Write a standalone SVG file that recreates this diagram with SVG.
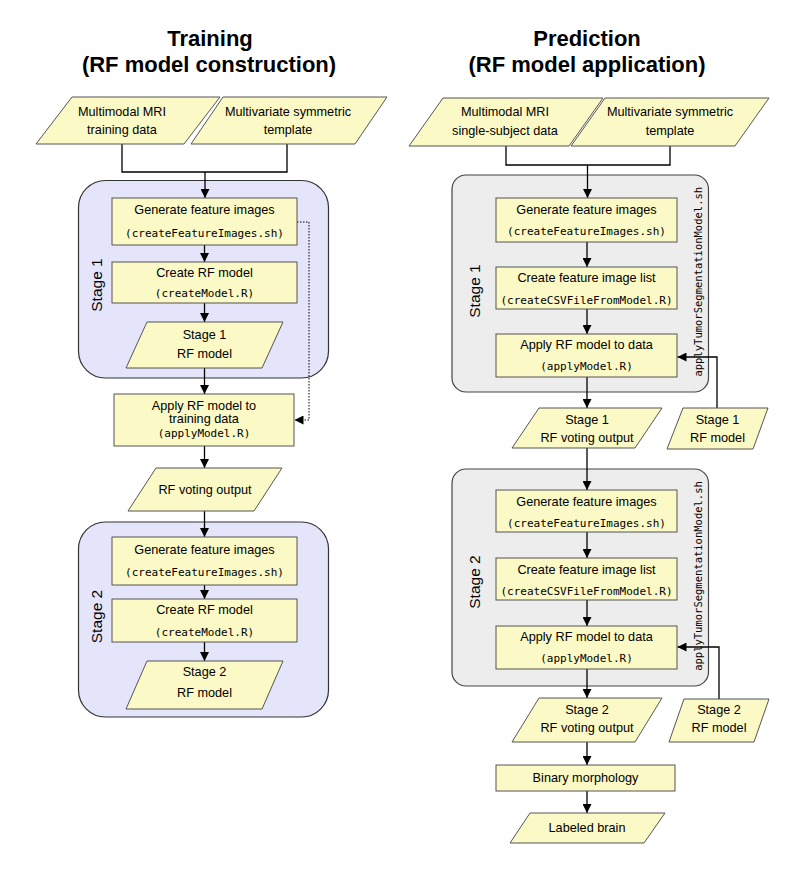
<svg xmlns="http://www.w3.org/2000/svg" width="792" height="870" viewBox="0 0 792 870">
<defs>
<marker id="ah" markerUnits="userSpaceOnUse" markerWidth="9" markerHeight="9" refX="9" refY="4.5" orient="auto">
<path d="M0,0 L9,4.5 L0,9 z" fill="#000"/>
</marker>
<style>
.n{fill:#fbf9c6;stroke:#555;stroke-width:1}
.t{font-family:"Liberation Sans",Arial,sans-serif;font-size:12.7px;text-anchor:middle;fill:#000}
.c{font-family:"DejaVu Sans Mono","Liberation Mono",monospace;font-size:11px;text-anchor:middle;fill:#000}
.ttl{font-family:"Liberation Sans",Arial,sans-serif;font-weight:bold;font-size:22px;text-anchor:middle;fill:#000}
.sl{font-family:"Liberation Sans",Arial,sans-serif;font-size:15.5px;text-anchor:middle;fill:#000}
.vl{font-family:"DejaVu Sans Mono","Liberation Mono",monospace;font-size:10.5px;text-anchor:middle;fill:#000}
.sb{fill:#e4e4fa;stroke:#333;stroke-width:1.2}
.sg{fill:#ededed;stroke:#444;stroke-width:1.2}
.cl{fill:none;stroke:#000;stroke-width:1.3}
.ar{fill:none;stroke:#000;stroke-width:1.3;marker-end:url(#ah)}
.dt{fill:none;stroke:#000;stroke-width:1;stroke-dasharray:1.5,1.5;marker-end:url(#ah)}
</style>
</defs>
<rect width="792" height="870" fill="#fff"/>

<g id="titles">
<text class="ttl" x="210" y="45.5">Training</text>
<text class="ttl" x="209" y="71.5">(RF model construction)</text>
<text class="ttl" x="587" y="45.5">Prediction</text>
<text class="ttl" x="587" y="71.5">(RF model application)</text>
</g>

<!-- Stage containers -->
<g id="stageL1">
<rect class="sb" x="78.5" y="180.5" width="250" height="197.5" rx="27"/>
<text class="sl" transform="translate(101.5,285) rotate(-90)">Stage 1</text>
</g>
<g id="stageL2">
<rect class="sb" x="78.5" y="522" width="250" height="195" rx="27"/>
<text class="sl" transform="translate(101.5,616.5) rotate(-90)">Stage 2</text>
</g>
<g id="stageR1">
<rect class="sg" x="452" y="175" width="256.5" height="217" rx="14"/>
<text class="sl" transform="translate(479.5,291) rotate(-90)">Stage 1</text>
<text class="vl" transform="translate(701.5,281.7) rotate(-90)">applyTumorSegmentationModel.sh</text>
</g>
<g id="stageR2">
<rect class="sg" x="452" y="469" width="256.5" height="217" rx="14"/>
<text class="sl" transform="translate(479.5,582) rotate(-90)">Stage 2</text>
<text class="vl" transform="translate(701.5,576) rotate(-90)">applyTumorSegmentationModel.sh</text>
</g>

<!-- Connectors -->
<g id="connectors">
<path class="cl" d="M122,144 V172 H287 V144"/>
<path class="ar" d="M205,172 V198"/>
<path class="ar" d="M204.5,245 V262"/>
<path class="ar" d="M204.5,303 V322"/>
<path class="ar" d="M204.5,368 V394"/>
<path class="ar" d="M204.5,446 V468"/>
<path class="ar" d="M204.5,511 V537"/>
<path class="ar" d="M204.5,585 V599"/>
<path class="ar" d="M204.5,642 V661"/>
<path class="dt" d="M297,222 H309 V420 H294.5"/>

<path class="cl" d="M506,146 V165 H670 V146"/>
<path class="ar" d="M587.5,165 V198"/>
<path class="ar" d="M587,242 V267"/>
<path class="ar" d="M587,309 V334"/>
<path class="ar" d="M587,377 V408"/>
<path class="ar" d="M587,448 V490"/>
<path class="ar" d="M587,532 V558"/>
<path class="ar" d="M587,600 V626"/>
<path class="ar" d="M587,669 V698"/>
<path class="ar" d="M587,742 V765"/>
<path class="ar" d="M587,791 V813"/>
<path class="ar" d="M717,408 V357 H677.5"/>
<path class="ar" d="M719,699 V647 H677.5"/>
</g>

<!-- Left (training) nodes -->
<g id="inL1">
<polygon class="n" points="72,97 220,97 184,144 36,144"/>
<text class="t" x="122" y="115.5">Multimodal MRI</text>
<text class="t" x="122" y="134">training data</text>
</g>
<g id="inL2">
<polygon class="n" points="223,97 387,97 355,144 191,144"/>
<text class="t" x="288" y="115.5">Multivariate symmetric</text>
<text class="t" x="288" y="134">template</text>
</g>
<g id="L1a">
<rect class="n" x="112" y="198" width="185" height="47"/>
<text class="t" x="204.5" y="214">Generate feature images</text>
<text class="c" x="204.5" y="237">(createFeatureImages.sh)</text>
</g>
<g id="L1b">
<rect class="n" x="112" y="262" width="185" height="41"/>
<text class="t" x="204.5" y="277">Create RF model</text>
<text class="c" x="204.5" y="297">(createModel.R)</text>
</g>
<g id="L1c">
<polygon class="n" points="147,322 283,322 262,368 126,368"/>
<text class="t" x="204.5" y="338.5">Stage 1</text>
<text class="t" x="204.5" y="358">RF model</text>
</g>
<g id="Lapply">
<rect class="n" x="114" y="394" width="180" height="52"/>
<text class="t" x="204" y="409.5">Apply RF model to</text>
<text class="t" x="204" y="423">training data</text>
<text class="c" x="204" y="437">(applyModel.R)</text>
</g>
<g id="Lvote">
<polygon class="n" points="156,468 282,468 254,511 128,511"/>
<text class="t" x="205" y="494">RF voting output</text>
</g>
<g id="L2a">
<rect class="n" x="112" y="537" width="185" height="48"/>
<text class="t" x="204.5" y="554">Generate feature images</text>
<text class="c" x="204.5" y="576">(createFeatureImages.sh)</text>
</g>
<g id="L2b">
<rect class="n" x="112" y="599" width="185" height="43"/>
<text class="t" x="204.5" y="614">Create RF model</text>
<text class="c" x="204.5" y="636">(createModel.R)</text>
</g>
<g id="L2c">
<polygon class="n" points="147,661 283,661 262,709 126,709"/>
<text class="t" x="204.5" y="675.5">Stage 2</text>
<text class="t" x="204.5" y="697">RF model</text>
</g>

<!-- Right (prediction) nodes -->
<g id="inR1">
<polygon class="n" points="443,98 603,98 569,146 409,146"/>
<text class="t" x="505" y="116">Multimodal MRI</text>
<text class="t" x="505" y="134.5">single-subject data</text>
</g>
<g id="inR2">
<polygon class="n" points="605,98 769,98 735,146 571,146"/>
<text class="t" x="670" y="116">Multivariate symmetric</text>
<text class="t" x="670" y="134.5">template</text>
</g>
<g id="R1a">
<rect class="n" x="496" y="198" width="181" height="44"/>
<text class="t" x="586.5" y="213.5">Generate feature images</text>
<text class="c" x="586.5" y="235">(createFeatureImages.sh)</text>
</g>
<g id="R1b">
<rect class="n" x="496" y="267" width="181" height="42"/>
<text class="t" x="586.5" y="282">Create feature image list</text>
<text class="c" x="586.5" y="303.5">(createCSVFileFromModel.R)</text>
</g>
<g id="R1c">
<rect class="n" x="496" y="334" width="181" height="43"/>
<text class="t" x="586.5" y="349">Apply RF model to data</text>
<text class="c" x="586.5" y="370">(applyModel.R)</text>
</g>
<g id="Rvote1">
<polygon class="n" points="539,408 662,408 635,448 512,448"/>
<text class="t" x="587" y="423.5">Stage 1</text>
<text class="t" x="587" y="442">RF voting output</text>
</g>
<g id="Rmodel1">
<polygon class="n" points="683,408 768,408 753,449 667,449"/>
<text class="t" x="717.5" y="423.5">Stage 1</text>
<text class="t" x="717.5" y="442">RF model</text>
</g>
<g id="R2a">
<rect class="n" x="496" y="490" width="181" height="42"/>
<text class="t" x="586.5" y="505.5">Generate feature images</text>
<text class="c" x="586.5" y="526.5">(createFeatureImages.sh)</text>
</g>
<g id="R2b">
<rect class="n" x="496" y="558" width="181" height="42"/>
<text class="t" x="586.5" y="573.5">Create feature image list</text>
<text class="c" x="586.5" y="595">(createCSVFileFromModel.R)</text>
</g>
<g id="R2c">
<rect class="n" x="496" y="626" width="181" height="43"/>
<text class="t" x="586.5" y="640.5">Apply RF model to data</text>
<text class="c" x="586.5" y="662">(applyModel.R)</text>
</g>
<g id="Rvote2">
<polygon class="n" points="539,698 662,698 635,742 512,742"/>
<text class="t" x="587" y="713.5">Stage 2</text>
<text class="t" x="587" y="732">RF voting output</text>
</g>
<g id="Rmodel2">
<polygon class="n" points="684,699 769,699 754,742 669,742"/>
<text class="t" x="719" y="714">Stage 2</text>
<text class="t" x="719" y="732">RF model</text>
</g>
<g id="Rbinary">
<rect class="n" x="496" y="765" width="179" height="26"/>
<text class="t" x="585.5" y="782">Binary morphology</text>
</g>
<g id="Rlabeled">
<polygon class="n" points="530,813 665,813 644,843 510,843"/>
<text class="t" x="587" y="832">Labeled brain</text>
</g>
</svg>
